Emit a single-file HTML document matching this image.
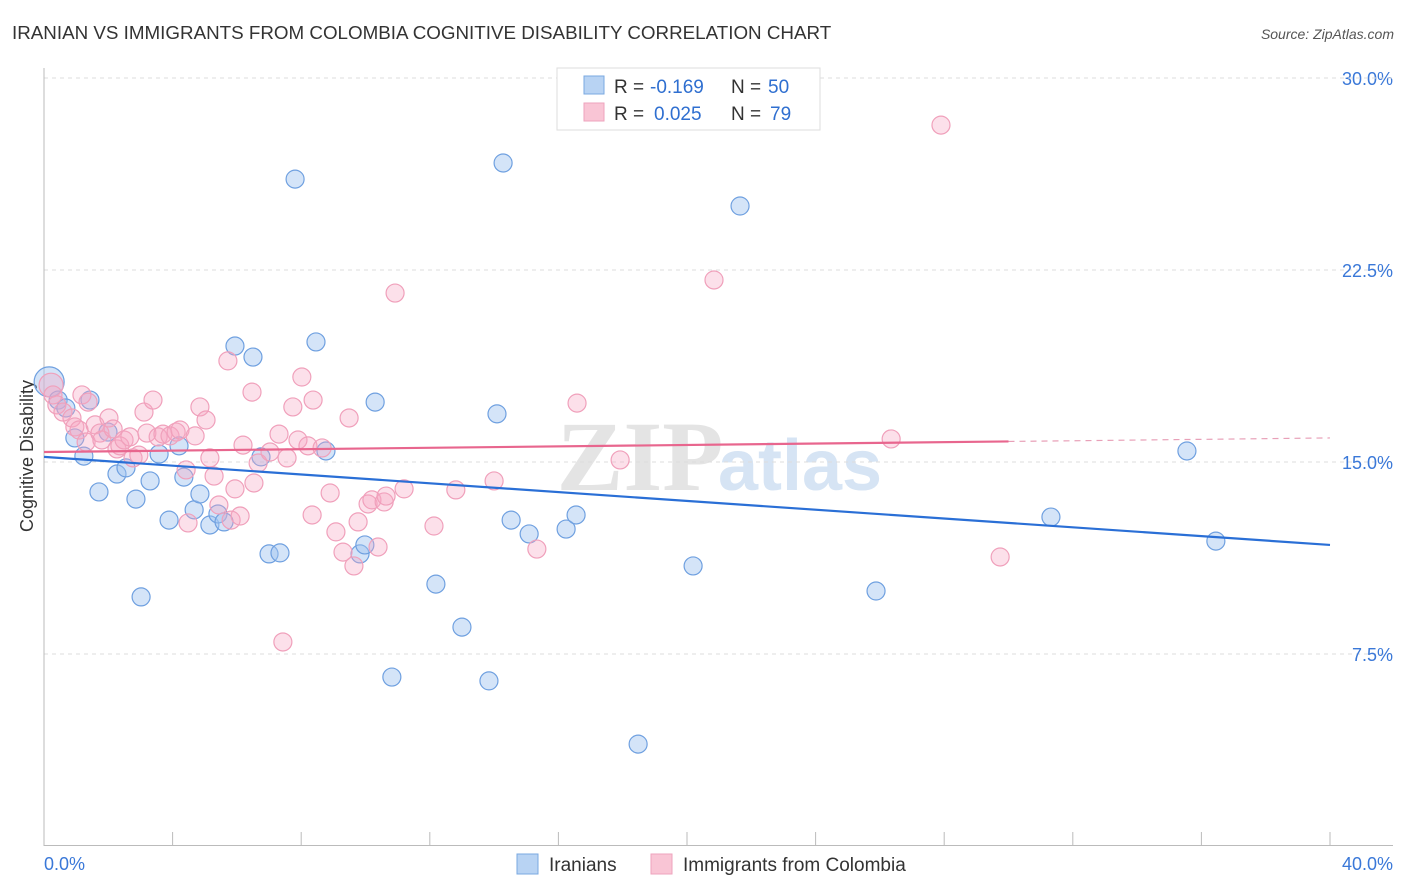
<!DOCTYPE html>
<html><head><meta charset="utf-8"><style>
body{margin:0;background:#fff;font-family:"Liberation Sans",sans-serif;}
svg{display:block}
</style></head><body>
<svg id="c" width="1406" height="892">
<text x="12" y="39" font-size="18.8" fill="#333">IRANIAN VS IMMIGRANTS FROM COLOMBIA COGNITIVE DISABILITY CORRELATION CHART</text>
<text x="1394" y="39" font-size="14" fill="#555" font-style="italic" text-anchor="end">Source: ZipAtlas.com</text>
<text x="0" y="0" font-size="18" fill="#333" text-anchor="middle" transform="translate(33,456) rotate(-90)">Cognitive Disability</text>
<text x="640" y="490" font-size="100" fill="#e4e4e4" font-family="Liberation Serif,serif" font-weight="bold" text-anchor="middle">ZIP</text>
<text x="800" y="490" font-size="72" fill="#d6e4f4" font-weight="bold" text-anchor="middle">atlas</text>
<g id="grid"></g><g id="pts"></g><g id="trend"></g>
<g>
<rect x="557" y="68" width="263" height="62" fill="#fff" stroke="#ddd"/>
<rect x="584" y="76" width="20" height="18" fill="#b8d3f3" stroke="#7aa8e0"/>
<rect x="584" y="103" width="20" height="18" fill="#f9c5d5" stroke="#eea3bd"/>
<text x="614" y="93" font-size="19" fill="#333">R =</text>
<text x="650" y="93" font-size="19" fill="#2f6fd0">-0.169</text>
<text x="731" y="93" font-size="19" fill="#333">N =</text>
<text x="768" y="93" font-size="19" fill="#2f6fd0">50</text>
<text x="614" y="120" font-size="19" fill="#333">R =</text>
<text x="654" y="120" font-size="19" fill="#2f6fd0">0.025</text>
<text x="731" y="120" font-size="19" fill="#333">N =</text>
<text x="770" y="120" font-size="19" fill="#2f6fd0">79</text>
</g>
<g>
<rect x="517" y="854" width="21" height="20" fill="#b8d3f3" stroke="#7aa8e0"/>
<text x="549" y="871" font-size="19" fill="#333">Iranians</text>
<rect x="651" y="854" width="21" height="20" fill="#f9c5d5" stroke="#eea3bd"/>
<text x="683" y="871" font-size="19" fill="#333">Immigrants from Colombia</text>
</g>
</svg>
<script>
const yTicks=[7.5,15,22.5,30];
const yTickLabels=["7.5%","15.0%","22.5%","30.0%"];
const xTickLabels=["0.0%","40.0%"];
const iranX=[0.16,0.44,0.68,1.43,0.96,1.24,1.71,1.99,2.27,2.55,2.86,3.02,3.30,3.58,3.89,4.20,4.35,4.67,4.85,5.16,5.41,5.60,5.94,6.50,6.75,7.00,7.34,7.81,8.46,8.77,9.83,9.98,10.30,10.82,12.19,13.00,13.84,14.09,14.28,14.53,15.09,16.24,16.55,18.48,20.19,21.65,25.88,31.32,35.55,36.45];
const iranY=[18.13,17.42,17.11,17.42,15.94,15.23,13.83,16.17,14.53,14.77,13.55,9.73,14.26,15.31,12.73,15.63,14.41,13.13,13.75,12.54,12.97,12.66,19.53,19.10,15.20,11.41,11.45,26.05,19.69,15.43,11.41,11.76,17.34,6.60,10.23,8.55,6.45,16.88,26.68,12.73,12.19,12.38,12.93,3.98,10.94,25.0,9.96,12.85,15.43,11.91];
const colX=[0.22,0.28,0.40,0.59,0.87,0.96,1.18,1.09,1.31,1.37,1.59,1.74,1.80,2.02,2.15,2.27,2.36,2.49,2.67,2.77,2.95,3.11,3.20,3.39,3.55,3.70,3.92,4.11,4.23,4.42,4.48,4.70,4.85,5.04,5.16,5.29,5.44,5.82,5.72,5.94,6.10,6.19,6.47,6.53,6.66,7.03,7.31,7.43,7.56,7.74,7.90,8.02,8.21,8.34,8.37,8.65,8.90,9.08,9.30,9.49,9.64,9.77,10.08,10.20,10.58,10.64,10.39,10.92,11.20,12.13,12.81,14.0,15.33,16.58,17.92,20.84,26.35,27.9,29.74];
const colY=[18.0,17.62,17.23,16.95,16.72,16.37,17.62,16.25,15.78,17.34,16.45,16.13,15.86,16.72,16.29,15.51,15.63,15.86,15.98,15.16,15.27,16.95,16.13,17.42,15.98,16.09,16.02,16.17,16.25,14.69,12.62,16.02,17.15,16.64,15.16,14.45,13.32,12.73,18.95,13.95,12.89,15.66,17.73,14.18,14.96,15.39,16.09,7.97,15.16,17.15,15.86,18.32,15.63,12.93,17.42,15.55,13.79,12.27,11.48,16.72,10.94,12.66,13.36,13.52,13.44,13.67,11.68,21.6,13.95,12.5,13.91,14.26,11.6,17.3,15.08,22.11,15.9,28.16,11.29];
const iranTrend=[15.2,11.76];
const colTrend=[15.39,15.94];
const X0=44,X1=1330,Y0=846,PY=25.6;
const sx=v=>X0+(X1-X0)*v/40, sy=v=>Y0-v*PY;
const NS="http://www.w3.org/2000/svg";
function mk(t,a,p){const e=document.createElementNS(NS,t);for(const k in a)e.setAttribute(k,a[k]);p.appendChild(e);return e;}
const grid=document.getElementById('grid');
yTicks.forEach((t,i)=>{
 const l=mk('line',{x1:44,x2:1393,y1:sy(t),y2:sy(t),stroke:'#ddd','stroke-dasharray':'4,4'},grid);
 
 
 const tx=mk('text',{x:1393,y:sy(t)+7,'font-size':18,fill:'#3a78d8','text-anchor':'end'},grid);
 tx.textContent=yTickLabels[i];
 
 
});
const topLine=mk('line',{x1:44,x2:1393,y1:78,y2:78,stroke:'#ddd','stroke-dasharray':'4,4'},grid);


const ya=mk('line',{x1:44,x2:44,y1:68,y2:846,stroke:'#bbb'},grid);


const xa=mk('line',{x1:44,x2:1393,y1:845.5,y2:845.5,stroke:'#bbb'},grid);


for(let i=0;i<=10;i++){const t=mk('line',{x1:sx(i*4),x2:sx(i*4),y1:832,y2:846,stroke:'#bbb'},grid);
 
 }
[[0,'start',44],[1,'end',1393]].forEach(([i,a,x])=>{const t=mk('text',{x:x,y:870,'font-size':18,fill:'#3a78d8','text-anchor':a},grid);t.textContent=xTickLabels[i];
 
 });
const pts=document.getElementById('pts');
iranX.forEach((x,i)=>{const c=mk('circle',{cx:sx(x),cy:sy(iranY[i]),r:i==0?15:9,fill:'rgba(160,196,240,0.45)',stroke:'#6fa0e0','stroke-width':1.2},pts);
 
 });
colX.forEach((x,i)=>{const c=mk('circle',{cx:sx(x),cy:sy(colY[i]),r:i==0?12:9,fill:'rgba(245,165,195,0.35)',stroke:'#f0a0bb','stroke-width':1.2},pts);
 
 });
const tr=document.getElementById('trend');
const b=mk('line',{x1:sx(0),y1:sy(iranTrend[0]),x2:sx(40),y2:sy(iranTrend[1]),stroke:'#2a6fd6','stroke-width':2.2},tr);


const cm=v=>colTrend[0]+(colTrend[1]-colTrend[0])*v/40;
const p=mk('line',{x1:sx(0),y1:sy(cm(0)),x2:sx(30),y2:sy(cm(30)),stroke:'#e8668e','stroke-width':2.2},tr);


const pd=mk('line',{x1:sx(30),y1:sy(cm(30)),x2:sx(40),y2:sy(cm(40)),stroke:'#e8a0b8','stroke-width':1.2,'stroke-dasharray':'6,5'},tr);


</script>
</body></html>
